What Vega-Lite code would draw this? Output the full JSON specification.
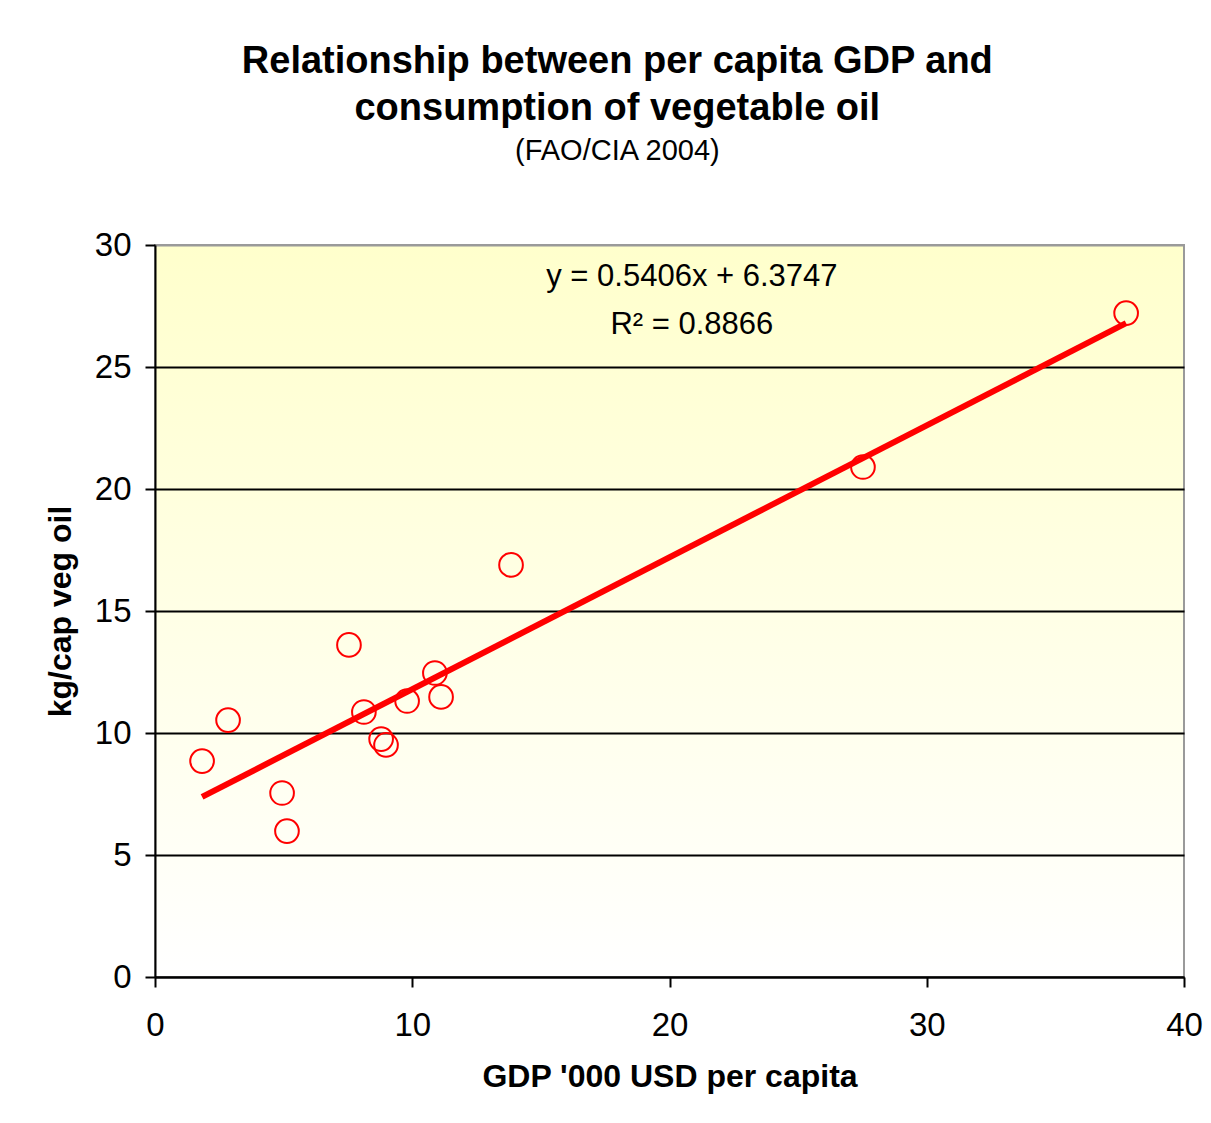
{
  "$schema": "https://vega.github.io/schema/vega-lite/v6.json",
  "width": 1029,
  "height": 732,
  "autosize": {"type": "none"},
  "padding": {"left": 155, "top": 245, "right": 27, "bottom": 146},
  "background": "white",
  "title": {
    "text": ["Relationship between per capita GDP and", "consumption of vegetable oil"],
    "subtitle": "(FAO/CIA 2004)",
    "font": "Liberation Sans",
    "fontSize": 38,
    "fontWeight": "bold",
    "lineHeight": 47,
    "color": "black",
    "subtitleFont": "Liberation Sans",
    "subtitleFontSize": 29,
    "subtitleColor": "black",
    "subtitlePadding": 9,
    "anchor": "middle",
    "frame": "bounds",
    "dx": -6,
    "offset": 63
  },
  "config": {
    "view": {
      "stroke": "#9a9a9a",
      "strokeWidth": 2,
      "fill": {
        "gradient": "linear",
        "x1": 0, "y1": 0, "x2": 0, "y2": 1,
        "stops": [
          {"offset": 0, "color": "#ffffcc"},
          {"offset": 1, "color": "#ffffff"}
        ]
      }
    },
    "axis": {
      "labelFont": "Liberation Sans",
      "labelFontSize": 33,
      "labelColor": "black",
      "titleFont": "Liberation Sans",
      "titleFontSize": 32,
      "titleFontWeight": "bold",
      "titleColor": "black",
      "domainColor": "black",
      "domainWidth": 2,
      "tickColor": "black",
      "tickWidth": 2,
      "tickSize": 10
    }
  },
  "layer": [
    {
      "data": {"values": [
        {"gdp": 1.83, "oil": 8.85},
        {"gdp": 2.84, "oil": 10.53},
        {"gdp": 4.94, "oil": 7.54},
        {"gdp": 5.13, "oil": 5.98},
        {"gdp": 7.54, "oil": 13.61},
        {"gdp": 8.12, "oil": 10.86},
        {"gdp": 8.79, "oil": 9.75},
        {"gdp": 8.98, "oil": 9.51},
        {"gdp": 9.80, "oil": 11.31},
        {"gdp": 10.88, "oil": 12.46},
        {"gdp": 11.12, "oil": 11.48},
        {"gdp": 13.84, "oil": 16.89},
        {"gdp": 27.52, "oil": 20.90},
        {"gdp": 37.75, "oil": 27.21}
      ]},
      "mark": {"type": "point", "shape": "circle", "filled": false, "size": 560, "stroke": "#ff0000", "strokeWidth": 2, "opacity": 1},
      "encoding": {
        "x": {
          "field": "gdp", "type": "quantitative",
          "scale": {"domain": [0, 40], "nice": false},
          "axis": {
            "values": [0, 10, 20, 30, 40],
            "title": "GDP '000 USD per capita",
            "grid": false,
            "labelPadding": 22,
            "titlePadding": 19,
            "labelFlush": false
          }
        },
        "y": {
          "field": "oil", "type": "quantitative",
          "scale": {"domain": [0, 30], "nice": false},
          "axis": {
            "values": [0, 5, 10, 15, 20, 25, 30],
            "title": "kg/cap veg oil",
            "grid": true,
            "gridColor": {"condition": {"test": "datum.value == 30", "value": "#9a9a9a"}, "value": "black"},
            "gridWidth": 2,
            "gridOpacity": 1,
            "labelPadding": 14,
            "titlePadding": 17,
            "labelFlush": false
          }
        }
      }
    },
    {
      "data": {"values": [
        {"gdp": 1.83, "oil": 7.38},
        {"gdp": 37.75, "oil": 26.8}
      ]},
      "mark": {"type": "line", "stroke": "#ff0000", "strokeWidth": 6},
      "encoding": {
        "x": {"field": "gdp", "type": "quantitative"},
        "y": {"field": "oil", "type": "quantitative"}
      }
    },
    {
      "data": {"values": [
        {"gdp": 20.87, "oil": 28.69, "label": "y = 0.5406x + 6.3747"},
        {"gdp": 20.87, "oil": 26.72, "label": "R² = 0.8866"}
      ]},
      "mark": {"type": "text", "font": "Liberation Sans", "fontSize": 31, "color": "black", "align": "center", "baseline": "middle"},
      "encoding": {
        "x": {"field": "gdp", "type": "quantitative"},
        "y": {"field": "oil", "type": "quantitative"},
        "text": {"field": "label"}
      }
    }
  ]
}
